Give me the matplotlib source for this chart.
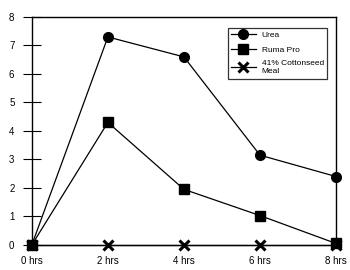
import matplotlib
matplotlib.use("Agg")
import matplotlib.pyplot as plt

plt.rcParams['font.family'] = ['Liberation Sans', 'DejaVu Sans']

hours = [0, 2, 4, 6, 8]
x_labels = ["0 hrs", "2 hrs", "4 hrs", "6 hrs", "8 hrs"]
urea = [0, 7.3, 6.6, 3.15, 2.4]
ruma_pro = [0, 4.3, 1.95, 1.03, 0.05]
cottonseed = [0, 0, 0, 0, 0]
y_ticks = [0, 1, 2, 3, 4, 5, 6, 7, 8]

fig = plt.figure(figsize=(3.5, 2.7), dpi=100)
ax = fig.add_axes([0.091, 0.093, 0.869, 0.844])

ax.plot(hours, urea, color='black', lw=0.9, marker='o', ms=7, label='Urea', zorder=3)
ax.plot(hours, ruma_pro, color='black', lw=0.9, marker='s', ms=7, label='Ruma Pro', zorder=4)
ax.plot(hours, cottonseed, color='black', lw=0.9, marker='x', ms=7, mew=2.2,
        label='41% Cottonseed\nMeal', zorder=2)

ax.set_xlim(0, 8)
ax.set_ylim(0, 8)
ax.set_xticks(hours)
ax.set_xticklabels(x_labels, fontsize=7)
ax.set_yticks(y_ticks)
ax.set_yticklabels([str(v) for v in y_ticks], fontsize=7)
ax.tick_params(axis='x', length=0, pad=8)
ax.tick_params(axis='y', direction='inout', length=13, width=0.8, pad=6)
for s in ax.spines.values():
    s.set_linewidth(1.0)
for m in ax.lines:
    m.set_clip_on(False)

leg = ax.legend(loc='upper right', bbox_to_anchor=(0.985, 0.97), fontsize=6,
                frameon=True, fancybox=False, edgecolor='black', handlelength=3.0,
                borderpad=0.4, labelspacing=0.8, handletextpad=0.7)
leg.get_frame().set_linewidth(0.9)

fig.savefig('out.png', dpi=100)
